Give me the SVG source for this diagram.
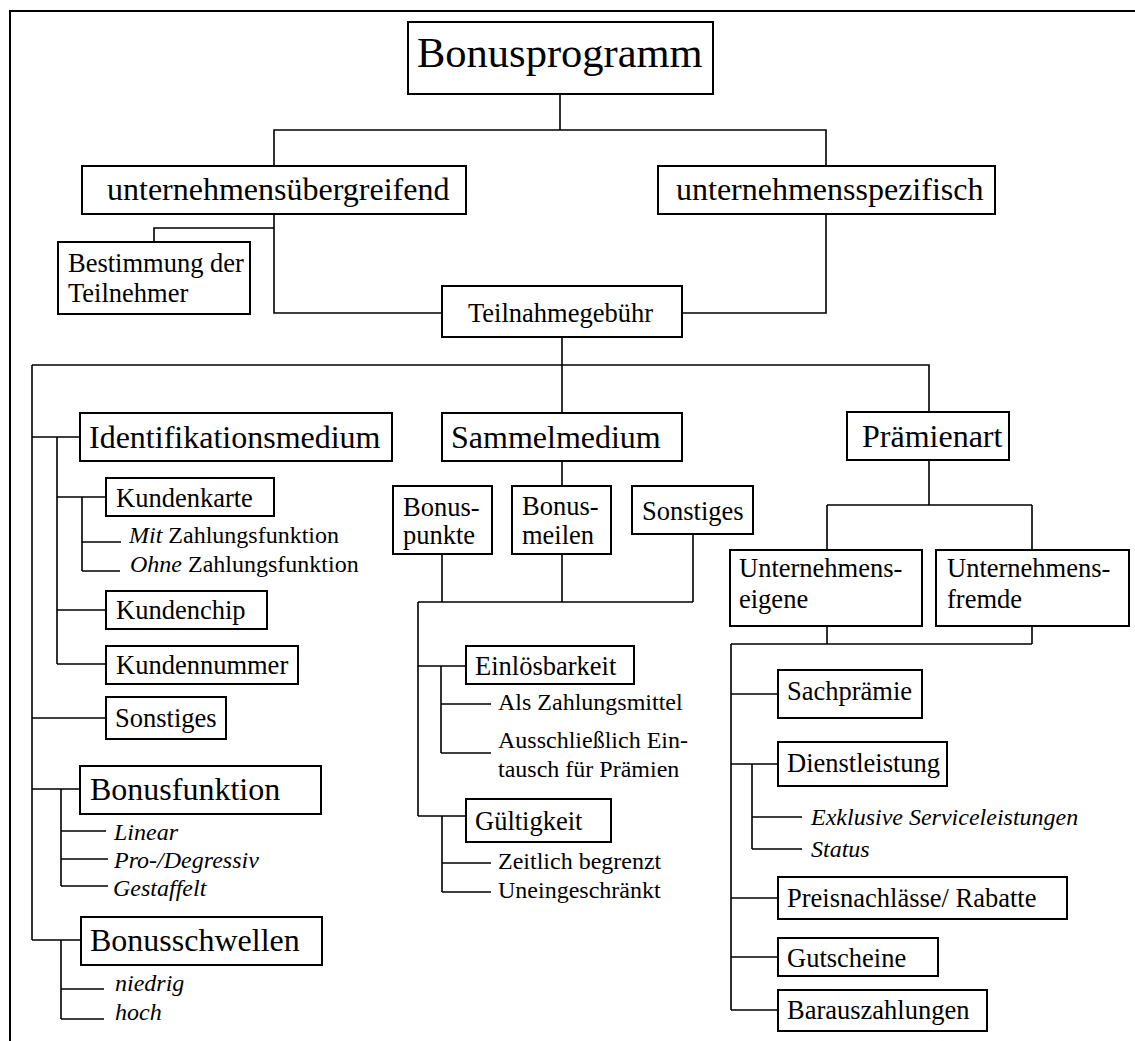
<svg xmlns="http://www.w3.org/2000/svg" width="1135" height="1041" viewBox="0 0 1135 1041">
<style>
.b{fill:#fff;stroke:#000;stroke-width:2}
.c{fill:none;stroke:#000;stroke-width:1.6}
text{font-family:"Liberation Serif","Times New Roman",serif;fill:#000}
.t42{font-size:42.5px}
.t32{font-size:32px}
.t26{font-size:26.5px}
.t24{font-size:24px}
.i{font-style:italic}
</style>
<rect width="1135" height="1041" fill="#fff"/>
<path d="M10,1041 V11 H1135" fill="none" stroke="#000" stroke-width="2"/>
<g id="connectors" class="c">
<path d="M560,94 V130 M274,166 V130 H826 V166"/>
<path d="M274,214 V313 H442 M274,228 H154 V242"/>
<path d="M826,214 V313 H682"/>
<path d="M562,337 V413 M32,365 H929 V412"/>
<path d="M32,365 V940"/>
<path d="M32,437 H80 M57,437 V664 M57,497 H106 M57,610 H106 M57,664 H106"/>
<path d="M82,497 V571 M82,542 H121 M82,571 H120"/>
<path d="M32,718 H106 M32,789 H80 M61,789 V886 M61,831 H106 M61,859 H108 M61,886 H108"/>
<path d="M32,940 H81 M61,940 V1019 M61,989 H104 M61,1019 H104"/>
<path d="M562,461 V486 M442,554 V602 M562,554 V602 M693,534 V602 M418,602 H693 M418,602 V816"/>
<path d="M418,666 H466 M441,666 V753 M441,704 H491 M441,753 H491"/>
<path d="M418,816 H466 M442,816 V892 M442,863 H491 M442,892 H491"/>
<path d="M929,460 V505 M827,505 H1032 M827,505 V550 M1032,505 V550"/>
<path d="M827,626 V644 M1032,626 V644 M731,644 H1032 M731,644 V1010"/>
<path d="M731,694 H778 M731,764 H778 M752,764 V849 M752,817 H802 M752,849 H802"/>
<path d="M731,898 H778 M731,957 H778 M731,1010 H778"/>
</g>
<g id="bonusprogramm"><rect class="b" x="408" y="22" width="305" height="72"/><text class="t42" x="417" y="67">Bonusprogramm</text></g>
<g id="uebergreifend"><rect class="b" x="82" y="166" width="384" height="48"/><text class="t32" x="107" y="200">unternehmensübergreifend</text></g>
<g id="spezifisch"><rect class="b" x="658" y="166" width="337" height="48"/><text class="t32" x="676" y="200">unternehmensspezifisch</text></g>
<g id="bestimmung"><rect class="b" x="58" y="242" width="192" height="72"/><text class="t26" x="68" y="272">Bestimmung der</text><text class="t26" x="68" y="302">Teilnehmer</text></g>
<g id="teilnahmegebuehr"><rect class="b" x="442" y="286" width="240" height="51"/><text class="t26" x="468" y="322">Teilnahmegebühr</text></g>
<g id="identifikationsmedium"><rect class="b" x="80" y="413" width="312" height="48"/><text class="t32" x="89" y="448">Identifikationsmedium</text></g>
<g id="kundenkarte"><rect class="b" x="106" y="478" width="168" height="38"/><text class="t26" x="116" y="507">Kundenkarte</text></g>
<g id="mit"><text class="t24" x="129" y="543"><tspan class="i">Mit</tspan> Zahlungsfunktion</text></g>
<g id="ohne"><text class="t24" x="130" y="572"><tspan class="i">Ohne</tspan> Zahlungsfunktion</text></g>
<g id="kundenchip"><rect class="b" x="106" y="591" width="161" height="38"/><text class="t26" x="116" y="619">Kundenchip</text></g>
<g id="kundennummer"><rect class="b" x="106" y="646" width="192" height="38"/><text class="t26" x="116" y="674">Kundennummer</text></g>
<g id="sonstiges1"><rect class="b" x="106" y="697" width="120" height="42"/><text class="t26" x="115" y="727">Sonstiges</text></g>
<g id="bonusfunktion"><rect class="b" x="80" y="766" width="241" height="48"/><text class="t32" x="90" y="800">Bonusfunktion</text></g>
<g id="linear"><text class="t24 i" x="114" y="840">Linear</text></g>
<g id="progressiv"><text class="t24 i" x="114" y="868">Pro-/Degressiv</text></g>
<g id="gestaffelt"><text class="t24 i" x="113" y="896">Gestaffelt</text></g>
<g id="bonusschwellen"><rect class="b" x="81" y="917" width="241" height="48"/><text class="t32" x="90" y="951">Bonusschwellen</text></g>
<g id="niedrig"><text class="t24 i" x="115" y="991">niedrig</text></g>
<g id="hoch"><text class="t24 i" x="115" y="1020">hoch</text></g>
<g id="sammelmedium"><rect class="b" x="442" y="413" width="240" height="48"/><text class="t32" x="451" y="448">Sammelmedium</text></g>
<g id="bonuspunkte"><rect class="b" x="393" y="486" width="99" height="68"/><text class="t26" x="403" y="516">Bonus-</text><text class="t26" x="403" y="544">punkte</text></g>
<g id="bonusmeilen"><rect class="b" x="512" y="486" width="99" height="68"/><text class="t26" x="522" y="515">Bonus-</text><text class="t26" x="522" y="544">meilen</text></g>
<g id="sonstiges2"><rect class="b" x="632" y="486" width="121" height="48"/><text class="t26" x="642" y="520">Sonstiges</text></g>
<g id="einloesbarkeit"><rect class="b" x="466" y="646" width="168" height="38"/><text class="t26" x="475" y="675">Einlösbarkeit</text></g>
<g id="zahlungsmittel"><text class="t24" x="498" y="710">Als Zahlungsmittel</text></g>
<g id="eintausch"><text class="t24" x="498" y="748">Ausschließlich Ein-</text><text class="t24" x="498" y="777">tausch für Prämien</text></g>
<g id="gueltigkeit"><rect class="b" x="466" y="799" width="145" height="43"/><text class="t26" x="475" y="830">Gültigkeit</text></g>
<g id="zeitlich"><text class="t24" x="498" y="869">Zeitlich begrenzt</text></g>
<g id="uneingeschraenkt"><text class="t24" x="498" y="898">Uneingeschränkt</text></g>
<g id="praemienart"><rect class="b" x="847" y="412" width="162" height="48"/><text class="t32" x="862" y="447">Prämienart</text></g>
<g id="eigene"><rect class="b" x="730" y="550" width="192" height="76"/><text class="t26" x="739" y="577">Unternehmens-</text><text class="t26" x="739" y="608">eigene</text></g>
<g id="fremde"><rect class="b" x="936" y="550" width="193" height="76"/><text class="t26" x="947" y="577">Unternehmens-</text><text class="t26" x="947" y="608">fremde</text></g>
<g id="sachpraemie"><rect class="b" x="778" y="670" width="144" height="48"/><text class="t26" x="787" y="700">Sachprämie</text></g>
<g id="dienstleistung"><rect class="b" x="778" y="742" width="169" height="44"/><text class="t26" x="787" y="772">Dienstleistung</text></g>
<g id="exklusiv"><text class="t24 i" x="811" y="825">Exklusive Serviceleistungen</text></g>
<g id="status"><text class="t24 i" x="811" y="857">Status</text></g>
<g id="preisnachlaesse"><rect class="b" x="778" y="877" width="289" height="42"/><text class="t26" x="787" y="907">Preisnachlässe/ Rabatte</text></g>
<g id="gutscheine"><rect class="b" x="778" y="938" width="160" height="38"/><text class="t26" x="787" y="967">Gutscheine</text></g>
<g id="barauszahlungen"><rect class="b" x="778" y="990" width="209" height="41"/><text class="t26" x="787" y="1019">Barauszahlungen</text></g>
</svg>
